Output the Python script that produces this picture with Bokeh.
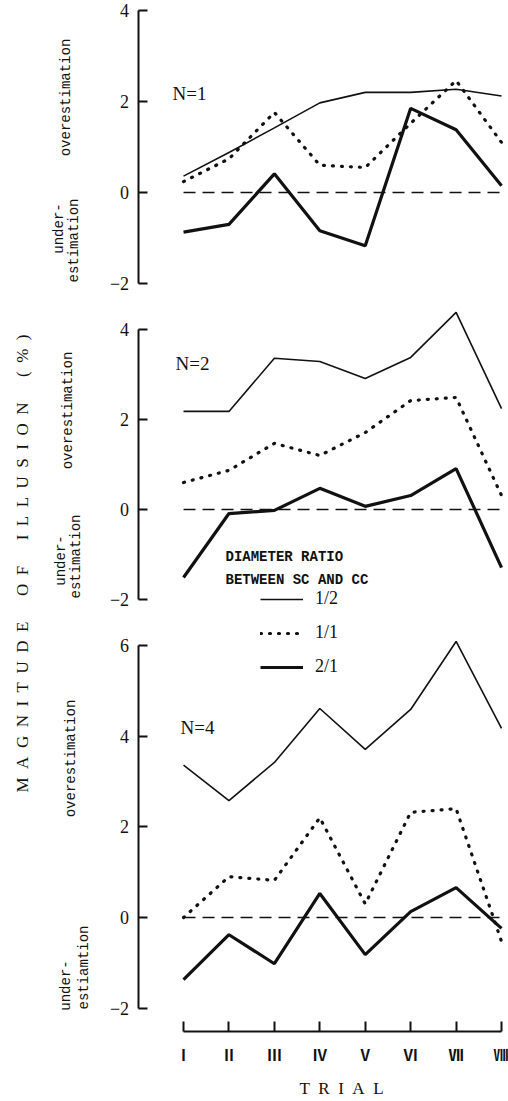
from bokeh.plotting import figure
from bokeh.models import (Range1d, LinearAxis, FixedTicker, Label, Legend, LegendItem)
from bokeh.embed import file_html
from bokeh.resources import INLINE

# ---------------- data ----------------
trials = [1, 2, 3, 4, 5, 6, 7, 8]
trial_labels = ["Ⅰ", "Ⅱ", "Ⅲ", "Ⅳ", "Ⅴ", "Ⅵ", "Ⅶ", "Ⅷ"]
ratio_labels = ["1/2", "1/1", "2/1"]

n1_half = [0.36, 0.88, 1.42, 1.97, 2.20, 2.20, 2.27, 2.12]
n1_one = [0.24, 0.74, 1.76, 0.60, 0.55, 1.52, 2.46, 1.10]
n1_two = [-0.87, -0.70, 0.41, -0.84, -1.17, 1.85, 1.38, 0.15]

n2_half = [2.18, 2.18, 3.36, 3.29, 2.91, 3.38, 4.38, 2.24]
n2_one = [0.60, 0.87, 1.47, 1.20, 1.71, 2.42, 2.49, 0.31]
n2_two = [-1.51, -0.09, -0.02, 0.47, 0.07, 0.31, 0.91, -1.29]

n4_half = [3.36, 2.58, 3.42, 4.61, 3.71, 4.59, 6.09, 4.17]
n4_one = [0.00, 0.90, 0.82, 2.20, 0.30, 2.32, 2.40, -0.53]
n4_two = [-1.37, -0.38, -1.02, 0.53, -0.82, 0.13, 0.66, -0.24]

panel_ticks = {"p1": [-2, 0, 2, 4], "p2": [-2, 0, 2, 4], "p3": [-2, 0, 2, 4, 6]}
panel_names = {"p1": "N=1", "p2": "N=2", "p3": "N=4"}

# ---------------- layout constants ----------------
W, H = 508, 1101
FRAME_H = H
PX_X = 45.43          # pixels per trial
X0 = 137.6            # pixel of x = 0


def xr(px):
    return (px - X0) / PX_X


# pixel of zero and pixels/unit for each panel
panel_scale = {"p1": (192.0, 45.5), "p2": (509.0, 45.0), "p3": (917.0, 45.33)}


def yr(panel, py):
    z, s = panel_scale[panel]
    return (z - py) / s


def prange(panel):
    z, s = panel_scale[panel]
    return Range1d((z - FRAME_H) / s, z / s)


p = figure(width=W, height=H, output_backend="svg", toolbar_location=None,
           x_range=Range1d(xr(0), xr(W)), y_range=prange("p3"),
           x_axis_location=None, y_axis_location=None,
           min_border_left=0, min_border_right=0, min_border_top=0,
           min_border_bottom=0)
p.extra_y_ranges = {"p1": prange("p1"), "p2": prange("p2"), "p3": prange("p3")}
p.grid.visible = False
p.outline_line_color = None
p.background_fill_color = "white"
p.border_fill_color = "white"

INK = "#111111"
SERIF = "Liberation Serif"
MONO = "Liberation Mono"

series = {
    "p1": (n1_half, n1_one, n1_two),
    "p2": (n2_half, n2_one, n2_two),
    "p3": (n4_half, n4_one, n4_two),
}

legend_renderers = []
for name, (half, one, two) in series.items():
    # zero reference line
    p.segment(x0=[trials[0]], x1=[trials[-1]], y0=[0], y1=[0], y_range_name=name,
              line_color=INK, line_width=1.3, line_dash="12 7")
    r_half = p.line(trials, half, y_range_name=name, line_color=INK, line_width=1.6)
    r_one = p.line(trials, one, y_range_name=name, line_color=INK, line_width=3.2,
                   line_dash="1 8", line_cap="round")
    r_two = p.line(trials, two, y_range_name=name, line_color=INK, line_width=3.2)
    if not legend_renderers:
        legend_renderers = [r_half, r_one, r_two]

    ticks = panel_ticks[name]
    ax = LinearAxis(y_range_name=name, fixed_location=0,
                    bounds=(ticks[0], ticks[-1]),
                    ticker=FixedTicker(ticks=ticks))
    ax.major_label_overrides = {-2: "−2"}
    ax.axis_line_color = INK
    ax.axis_line_width = 2
    ax.major_tick_line_color = INK
    ax.major_tick_line_width = 2
    ax.major_tick_in = 9
    ax.major_tick_out = 0
    ax.minor_tick_line_color = None
    ax.major_label_standoff = 9
    ax.major_label_text_font = SERIF
    ax.major_label_text_font_size = "18px"
    ax.major_label_text_color = INK
    p.add_layout(ax, "left")

# x axis (drawn below the lowest panel)
xax = LinearAxis(fixed_location=yr("p3", 1031), bounds=(trials[0], trials[-1]),
                 ticker=FixedTicker(ticks=trials))
xax.major_label_overrides = {t: lab for t, lab in zip(trials, trial_labels)}
xax.axis_line_color = INK
xax.axis_line_width = 2
xax.major_tick_line_color = INK
xax.major_tick_line_width = 2
xax.major_tick_in = 10
xax.major_tick_out = 0
xax.minor_tick_line_color = None
xax.major_label_standoff = 12
xax.major_label_text_font = "Noto Sans CJK JP"
xax.major_label_text_font_style = "bold"
xax.major_label_text_font_size = "15px"
xax.major_label_text_color = INK
p.add_layout(xax, "below")

sp = "\u2002"
p.add_layout(Label(x=xr(341), y=yr("p3", 1088), text=sp.join("TRIAL"),
                   text_align="center", text_baseline="middle",
                   text_font=SERIF, text_font_size="17px", text_color=INK))

# side labels
side = [
    ("p1", "overestimation", 65, 97),
    ("p1", "under-", 58, 228),
    ("p1", "estimation", 73, 240),
    ("p2", "overestimation", 67, 410),
    ("p2", "under-", 60, 560),
    ("p2", "estimation", 75, 556),
    ("p3", "overestimation", 70, 758),
    ("p3", "under-", 65, 985),
    ("p3", "estiamtion", 83, 967),
]
for name, txt, px, py in side:
    p.add_layout(Label(x=xr(px), y=yr(name, py), y_range_name=name, text=txt,
                       angle=90, angle_units="deg", text_align="center",
                       text_baseline="middle", text_font=MONO,
                       text_font_size="14px", text_color=INK))

# N labels
for name, px, py in [("p1", 172, 93), ("p2", 175, 363), ("p3", 180, 727)]:
    p.add_layout(Label(x=xr(px), y=yr(name, py), y_range_name=name,
                       text=panel_names[name], text_align="left",
                       text_baseline="middle", text_font=SERIF,
                       text_font_size="19px", text_color=INK))

# overall y label
ylab = (sp.join("MAGNITUDE") + sp * 3 + sp.join("OF") + sp * 3 +
        sp.join("ILLUSION") + sp * 3 + sp.join("(%)"))
p.add_layout(Label(x=xr(22), y=yr("p2", 563), y_range_name="p2", text=ylab,
                   angle=90, angle_units="deg", text_align="center",
                   text_baseline="middle", text_font=SERIF,
                   text_font_size="17px", text_color=INK))

# legend header
for txt, py in [("DIAMETER RATIO", 556), ("BETWEEN SC AND CC", 579)]:
    p.add_layout(Label(x=xr(225), y=yr("p2", py), y_range_name="p2", text=txt,
                       text_align="left", text_baseline="middle",
                       text_font=MONO, text_font_size="14px",
                       text_font_style="bold", text_color=INK))

legend = Legend(items=[LegendItem(label=lab, renderers=[r])
                       for lab, r in zip(ratio_labels, legend_renderers)],
                location=(260, FRAME_H - 677), padding=0, margin=0,
                glyph_width=43, glyph_height=20, label_height=20,
                spacing=13, label_standoff=12,
                label_text_font=SERIF, label_text_font_size="18px",
                label_text_color=INK, background_fill_alpha=0,
                border_line_color=None)
p.add_layout(legend, "center")

open("out.html", "w").write(file_html(p, INLINE))
